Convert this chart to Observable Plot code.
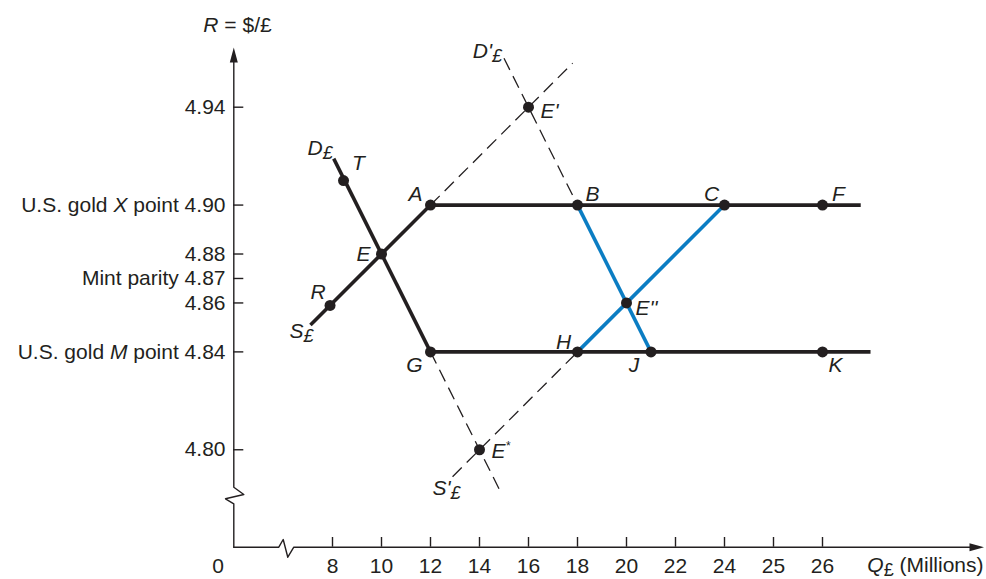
<!DOCTYPE html>
<html>
<head>
<meta charset="utf-8">
<script src="https://cdn.jsdelivr.net/npm/d3@7"></script>
<script src="https://cdn.jsdelivr.net/npm/@observablehq/plot@0.6"></script>
<style>
  html, body { margin: 0; padding: 0; background: #ffffff; }
  #chart svg { display: block; }
</style>
</head>
<body>
<div id="chart"></div>
<script>
// ---------------- DATA ----------------
// Axis ticks
const xTickValues = [8, 10, 12, 14, 16, 18, 20, 22, 24, 25, 26];
const xTickLabels = ["8", "10", "12", "14", "16", "18", "20", "22", "24", "25", "26"];
const yTickValues = [4.94, 4.90, 4.88, 4.87, 4.86, 4.84, 4.80];
const yTickLabels = ["4.94", "U.S. gold <i>X</i> point 4.90", "4.88", "Mint parity 4.87", "4.86", "U.S. gold <i>M</i> point 4.84", "4.80"];
const originLabel = "0";
const xTitle = "<i>Q</i><sub>£</sub> (Millions)";
const yTitle = "<i>R</i> = $/£";

// Labelled points (Q£ in millions, R in $/£)
const pointLabels = ["T", "R", "E", "A", "B", "C", "F", "G", "H", "J", "K", "E''", "E'", "E<sup>*</sup>"];
const pointQ = [8.45, 7.9, 10, 12, 18, 24, 26, 12, 18, 21, 26, 20, 16, 14];
const pointR = [4.910, 4.859, 4.88, 4.90, 4.90, 4.90, 4.90, 4.84, 4.84, 4.84, 4.84, 4.86, 4.94, 4.80];

// Solid black schedules: D£, S£, gold-export and gold-import horizontals
const solidNames = ["D£", "S£", "X point", "M point"];
const solidQ1 = [8.05, 7.1, 12, 12];
const solidR1 = [4.919, 4.851, 4.90, 4.84];
const solidQ2 = [12, 12, 26.78, 26.98];
const solidR2 = [4.84, 4.90, 4.90, 4.84];

// Blue (new) schedules: B–J (demand), H–C (supply)
const blueNames = ["D'£ effective", "S'£ effective"];
const blueQ1 = [18, 18];
const blueR1 = [4.90, 4.84];
const blueQ2 = [21, 24];
const blueR2 = [4.84, 4.90];

// Dashed extensions
const dashNames = ["S£ ext", "S'£", "D'£", "D£ ext"];
const dashQ1 = [12, 12.9, 15.0, 12];
const dashR1 = [4.90, 4.789, 4.96, 4.84];
const dashQ2 = [17.8, 18, 18, 14.85];
const dashR2 = [4.958, 4.84, 4.90, 4.783];

// Curve labels and which end they sit at
const curveLabels = ["D<sub>£</sub>", "S<sub>£</sub>", "D'<sub>£</sub>", "S'<sub>£</sub>"];
const curveLabelQ = [8.05, 7.1, 15.0, 12.9];
const curveLabelR = [4.919, 4.851, 4.96, 4.789];

// ---------------- LAYOUT (pixels / styles) ----------------
const W = 986, H = 579;
const xDomain = [0, 7, 24, 26];            // piecewise (axis break, 25/26 stretched)
const xRange = [233, 307.5, 724, 822];
const yDomain = [0, 4.78, 4.94];           // piecewise (axis break)
const yRange = [546.7, 498.2, 106.7];
const ink = "#231f20";
const blue = "#0b7dc3";
const font = "'Liberation Sans', Arial, Helvetica, sans-serif";
const pointLabelOffsets = [[15,-17],[-12,-13],[-18,0],[-15,-11],[15,-11],[-13,-11],[16,-11],[-16,13],[-14,-10],[-17,13],[13,13],[9,5],[12,4],[12,2]];
const pointLabelAnchors = ["middle","middle","middle","middle","middle","middle","middle","middle","middle","middle","middle","start","start","start"];
const curveLabelOffsets = [[-1,-10],[3,6],[-2,-7],[8,12]];

const sx = d3.scaleLinear().domain(xDomain).range(xRange);
const sy = d3.scaleLinear().domain(yDomain).range(yRange);
const px = (x, y) => ({q: sx.invert(x), r: sy.invert(y)});

// axis paths in pixel layout, converted to data space through the scales
const yAxisPath = [[233.3,546.7],[233.3,503.3],[225,498.3],[243.3,494],[233.3,486.7],[233.3,60]].map(([a,b]) => px(a,b));
const xAxisPath = [[233.3,546.7],[278.3,546.7],[282.7,539],[287.3,556.7],[293.3,546.7],[972,546.7]].map(([a,b]) => px(a,b));
const yArrow = [[233.3,47],[229.3,62],[237.3,62]].map(([a,b]) => px(a,b));
const xArrow = [[983.5,546.7],[969,542.7],[969,550.7]].map(([a,b]) => px(a,b));
const yTickEnd = sx.invert(243.3);
const xTickEnd = sy.invert(537);
const idx = (arr) => arr.map((_, i) => i);

const chart = Plot.plot({
  width: W,
  height: H,
  margin: 0,
  x: {type: "linear", domain: xDomain, range: xRange, axis: null},
  y: {type: "linear", domain: yDomain, range: yRange, axis: null},
  style: {fontFamily: font, fontSize: "21px", background: "#ffffff", color: ink},
  marks: [
    // axes
    Plot.line(yAxisPath, {x: "q", y: "r", stroke: ink, strokeWidth: 1.4}),
    Plot.line(xAxisPath, {x: "q", y: "r", stroke: ink, strokeWidth: 1.4}),
    Plot.line(yArrow, {x: "q", y: "r", fill: ink, stroke: "none"}),
    Plot.line(xArrow, {x: "q", y: "r", fill: ink, stroke: "none"}),
    Plot.ruleY(yTickValues, {y: d => d, x1: 0, x2: yTickEnd, stroke: ink, strokeWidth: 1.4}),
    Plot.ruleX(xTickValues, {x: d => d, y1: 0, y2: xTickEnd, stroke: ink, strokeWidth: 1.4}),
    Plot.text(yTickValues, {x: 0, y: d => d, text: (d, i) => yTickLabels[i], textAnchor: "end", dx: -8, fontSize: 21, fill: ink}),
    Plot.text(xTickValues, {x: d => d, y: 0, text: (d, i) => xTickLabels[i], dy: 19, fontSize: 21, fill: ink}),
    Plot.text([originLabel], {x: 0, y: 0, text: d => d, dx: -15.5, dy: 19, fontSize: 21, fill: ink}),
    Plot.text([xTitle], {x: sx.invert(983), y: 0, text: d => d, textAnchor: "end", dy: 18, fontSize: 21, fill: ink}),
    Plot.text([yTitle], {x: 0, y: sy.invert(25), text: d => d, dx: 4, fontSize: 21, fill: ink}),

    // dashed extensions
    Plot.link(idx(dashNames), {x1: i => dashQ1[i], y1: i => dashR1[i], x2: i => dashQ2[i], y2: i => dashR2[i],
      stroke: ink, strokeWidth: 1.3, strokeDasharray: "13 7"}),
    // solid schedules
    Plot.link(idx(solidNames), {x1: i => solidQ1[i], y1: i => solidR1[i], x2: i => solidQ2[i], y2: i => solidR2[i],
      stroke: ink, strokeWidth: 3.6}),
    // blue schedules
    Plot.link(idx(blueNames), {x1: i => blueQ1[i], y1: i => blueR1[i], x2: i => blueQ2[i], y2: i => blueR2[i],
      stroke: blue, strokeWidth: 3.6}),
    // points
    Plot.dot(idx(pointLabels), {x: i => pointQ[i], y: i => pointR[i], r: 5.5, fill: ink, stroke: "none"}),
    // point labels
    ...idx(pointLabels).map(i => Plot.text([i], {
      x: pointQ[i], y: pointR[i], text: [pointLabels[i]], dx: pointLabelOffsets[i][0], dy: pointLabelOffsets[i][1],
      textAnchor: pointLabelAnchors[i], fontStyle: "italic", fontSize: 21, fill: ink})),
    // curve labels
    ...idx(curveLabels).map(i => Plot.text([i], {
      x: curveLabelQ[i], y: curveLabelR[i], text: [curveLabels[i]], dx: curveLabelOffsets[i][0], dy: curveLabelOffsets[i][1],
      textAnchor: "end", fontStyle: "italic", fontSize: 21, fill: ink}))
  ]
});

// rich text: <i>, <sub>, <sup>
function richify(root) {
  root.querySelectorAll("text").forEach(t => {
    const s = t.textContent;
    if (!s.includes("<")) return;
    const parts = s.split(/(<\/?(?:i|sub|sup)>)/);
    t.textContent = "";
    let it = false, shift = 0, cur = 0, small = false;
    for (const p of parts) {
      if (!p) continue;
      if (p === "<i>") { it = true; continue; }
      if (p === "</i>") { it = false; continue; }
      if (p === "<sub>") { shift = 4; small = true; continue; }
      if (p === "<sup>") { shift = -8; small = true; continue; }
      if (p === "</sub>" || p === "</sup>") { shift = 0; small = false; continue; }
      const ts = document.createElementNS("http://www.w3.org/2000/svg", "tspan");
      ts.textContent = p;
      if (it) ts.setAttribute("font-style", "italic");
      if (small) ts.setAttribute("font-size", shift < 0 ? "12px" : "18px");
      const d = shift - cur;
      if (d) ts.setAttribute("dy", d);
      cur = shift;
      t.appendChild(ts);
    }
  });
}
richify(chart);
document.getElementById("chart").appendChild(chart);
</script>
</body>
</html>
